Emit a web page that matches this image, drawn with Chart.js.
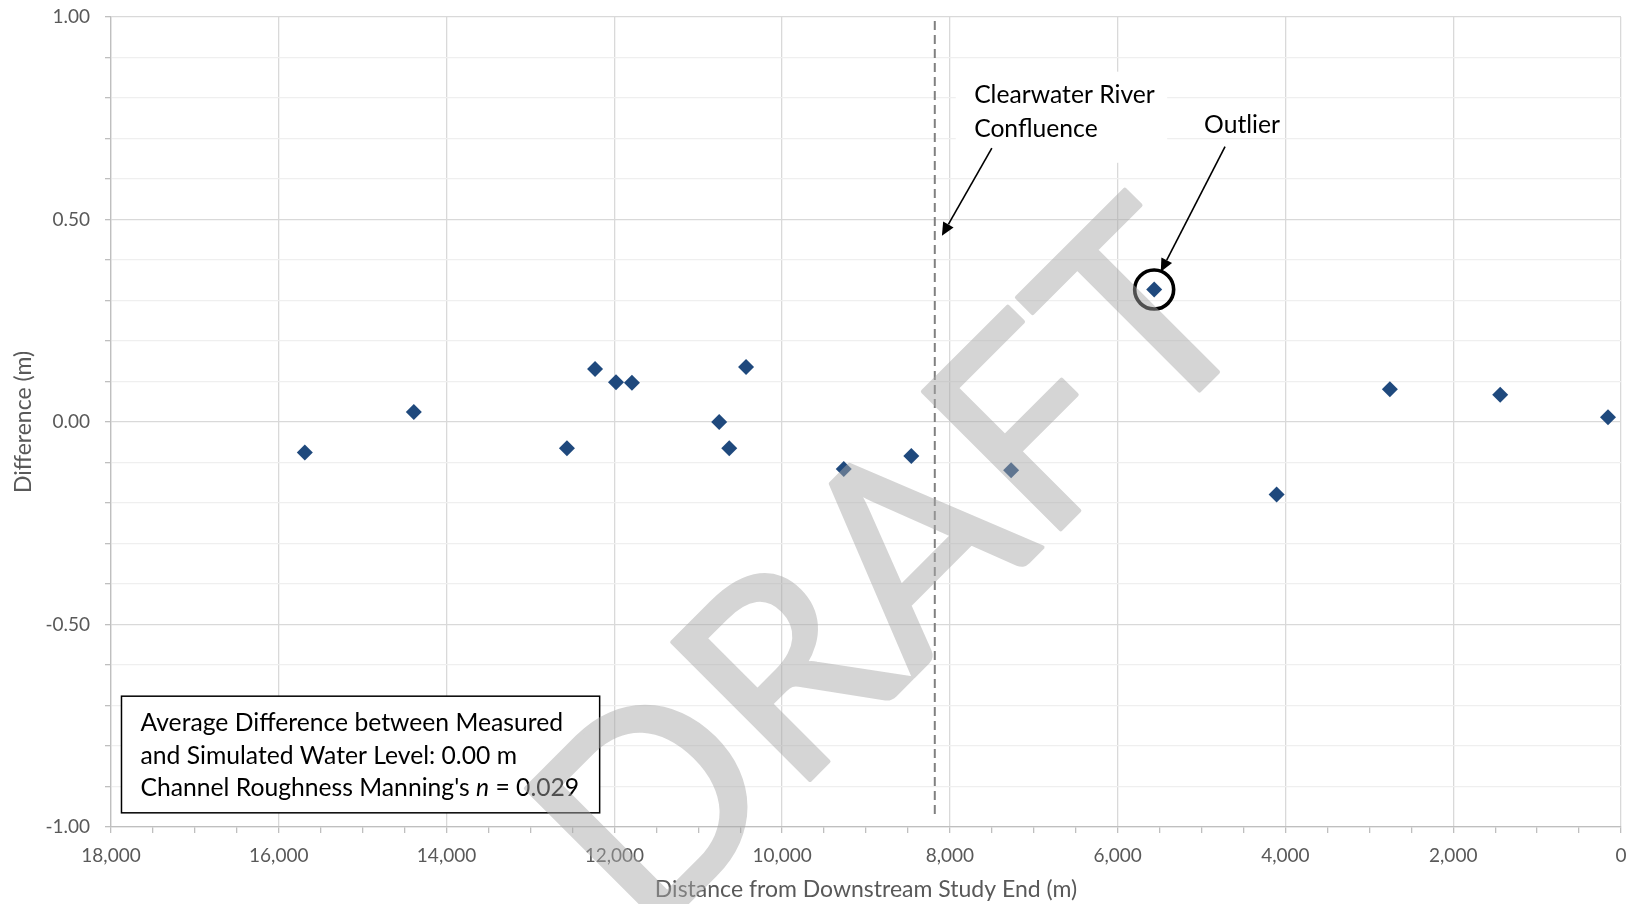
<!DOCTYPE html>
<html>
<head>
<meta charset="utf-8">
<script src="https://cdn.jsdelivr.net/npm/chart.js@4.4.1/dist/chart.umd.min.js"></script>
<style>
  html, body { margin: 0; padding: 0; background: #ffffff; }
  #wrap { width: 1631px; height: 904px; position: relative; }
</style>
</head>
<body>
<div id="wrap"><canvas id="chart" width="1631" height="904"></canvas></div>
<script>
// Measured minus simulated water level along the reach
const distance   = [15690, 14390, 12565, 12230, 11980, 11790, 10750, 10630, 10430, 9265, 8460, 7270, 5565, 4105, 2755, 1440, 155];
const difference = [-0.075, 0.025, -0.065, 0.131, 0.098, 0.097, 0.000, -0.065, 0.136, -0.116, -0.084, -0.119, 0.327, -0.179, 0.081, 0.067, 0.012];

// Tick values (labelled ones) for both axes
const xTickValues = [18000, 16000, 14000, 12000, 10000, 8000, 6000, 4000, 2000, 0];
const yTickValues = [1.00, 0.50, 0.00, -0.50, -1.00];

// Clearwater River confluence marker and the flagged outlier
const confluenceDistance = 8180;
const confluenceSpan = [0.99, -0.97];
const outlierIndex = 12;

const infoLines = [
  'Average Difference between Measured',
  'and Simulated Water Level: 0.00 m'
];
const roughnessLabel = { before: "Channel Roughness Manning's ", symbol: 'n', after: ' = 0.029' };

const BLUE = '#1f497d';
const AXIS_TEXT = '#595959';
const FONT = 'Lato';
const NOTE_SIZE = 24.7;

function px(chart, x, y) {
  return [chart.scales.x.getPixelForValue(x), chart.scales.y.getPixelForValue(y)];
}

function arrow(ctx, from, to) {
  const [x1, y1] = from, [x2, y2] = to;
  const ang = Math.atan2(y2 - y1, x2 - x1);
  const head = 13, half = 6;
  const bx = x2 - head * Math.cos(ang), by = y2 - head * Math.sin(ang);
  ctx.beginPath();
  ctx.moveTo(x1, y1);
  ctx.lineTo(bx, by);
  ctx.stroke();
  ctx.beginPath();
  ctx.moveTo(x2, y2);
  ctx.lineTo(bx + half * Math.sin(ang), by - half * Math.cos(ang));
  ctx.lineTo(bx - half * Math.sin(ang), by + half * Math.cos(ang));
  ctx.closePath();
  ctx.fill();
}

const annotations = {
  id: 'annotations',
  beforeDatasetsDraw(chart) {
    // white patch behind the confluence label
    const ctx = chart.ctx;
    const [l, t] = px(chart, 7930, 0.865);
    const [r, b] = px(chart, 5410, 0.64);
    ctx.save();
    ctx.fillStyle = '#ffffff';
    ctx.fillRect(l, t, r - l, b - t);
    ctx.restore();
  },
  afterDatasetsDraw(chart) {
    const ctx = chart.ctx;
    ctx.save();
    ctx.fillStyle = '#000000';
    ctx.strokeStyle = '#000000';
    ctx.font = `${NOTE_SIZE}px ${FONT}`;
    ctx.textBaseline = 'alphabetic';
    ctx.textAlign = 'left';

    // confluence label + arrow
    let [tx, ty] = px(chart, 7711, 0.787);
    ctx.fillText('Clearwater River', tx, ty);
    ctx.fillText('Confluence', tx, ty + 34);
    ctx.lineWidth = 1.6;
    arrow(ctx, px(chart, 7500, 0.676), px(chart, 8095, 0.46));

    // outlier label + arrow + ring
    [tx, ty] = px(chart, 4970, 0.713);
    ctx.fillText('Outlier', tx, ty);
    arrow(ctx, px(chart, 4720, 0.68), px(chart, 5486, 0.371));
    const [cx, cy] = px(chart, distance[outlierIndex], difference[outlierIndex]);
    ctx.lineWidth = 3.6;
    ctx.beginPath();
    ctx.arc(cx, cy, 19.5, 0, Math.PI * 2);
    ctx.stroke();

    // summary box
    const [bl, bt] = px(chart, 17875, -0.677);
    const [br, bb] = px(chart, 12175, -0.965);
    ctx.fillStyle = '#ffffff';
    ctx.fillRect(bl, bt, br - bl, bb - bt);
    ctx.lineWidth = 1.5;
    ctx.strokeRect(bl, bt, br - bl, bb - bt);
    ctx.fillStyle = '#000000';
    const textX = bl + 19;
    const base = bt + 35;
    infoLines.forEach((line, i) => ctx.fillText(line, textX, base + i * 32.5));
    const y3 = base + 2 * 32.5;
    let cur = textX;
    ctx.fillText(roughnessLabel.before, cur, y3);
    cur += ctx.measureText(roughnessLabel.before).width;
    ctx.font = `italic ${NOTE_SIZE}px ${FONT}`;
    ctx.fillText(roughnessLabel.symbol, cur, y3);
    cur += ctx.measureText(roughnessLabel.symbol).width;
    ctx.font = `${NOTE_SIZE}px ${FONT}`;
    ctx.fillText(roughnessLabel.after, cur, y3);
    ctx.restore();
  },
  afterDraw(chart) {
    // DRAFT watermark: drawn solid off-screen, then laid over the chart translucently
    const ctx = chart.ctx;
    const off = document.createElement('canvas');
    off.width = chart.width;
    off.height = chart.height;
    const o = off.getContext('2d');
    o.font = `272px ${FONT}`;
    o.fillStyle = '#a8a8a8';
    o.strokeStyle = '#a8a8a8';
    o.lineWidth = 4;
    o.lineJoin = 'round';
    o.textBaseline = 'alphabetic';
    o.textAlign = 'left';
    o.translate(978, 612);
    o.rotate(-45 * Math.PI / 180);
    const wDR = o.measureText('DR').width;
    const wA = o.measureText('A').width;
    const x0 = -(wDR + wA / 2);
    o.fillText('DRAFT', x0, 0);
    o.strokeText('DRAFT', x0, 0);
    ctx.save();
    ctx.globalAlpha = 0.48;
    ctx.drawImage(off, 0, 0);
    ctx.restore();
  }
};

const points = distance.map((d, i) => ({ x: d, y: difference[i] }));
const confluenceLine = confluenceSpan.map(v => ({ x: confluenceDistance, y: v }));

new Chart(document.getElementById('chart'), {
  type: 'scatter',
  data: {
    datasets: [
      {
        label: 'Difference',
        data: points,
        pointStyle: 'rectRot',
        pointRadius: 8,
        pointHoverRadius: 8,
        backgroundColor: BLUE,
        borderColor: BLUE,
        borderWidth: 0,
        order: 1
      },
      {
        label: 'Clearwater River Confluence',
        data: confluenceLine,
        showLine: true,
        borderColor: '#808080',
        borderWidth: 2,
        borderDash: [9, 5],
        pointRadius: 0,
        order: 2
      }
    ]
  },
  options: {
    responsive: false,
    animation: false,
    devicePixelRatio: 1,
    layout: { padding: { top: 17, right: 10, left: 0, bottom: 0 } },
    plugins: { legend: { display: false }, tooltip: { enabled: false } },
    scales: {
      x: {
        type: 'linear',
        reverse: true,
        min: 0,
        max: 18000,
        afterBuildTicks(scale) {
          const t = [];
          for (let v = 0; v <= 18000; v += 500) t.push({ value: v });
          scale.ticks = t;
        },
        afterFit(scale) { scale.height = 77; },
        ticks: {
          autoSkip: false,
          maxRotation: 0,
          padding: 11,
          color: AXIS_TEXT,
          font: { family: FONT, size: 19 },
          callback: v => xTickValues.includes(v) ? v.toLocaleString('en-US') : ''
        },
        grid: {
          color: c => (c.tick && xTickValues.includes(c.tick.value)) ? '#d9d9d9' : 'rgba(0,0,0,0)',
          tickColor: '#bfbfbf',
          tickLength: 6,
          lineWidth: 1.3
        },
        border: { color: '#bfbfbf', width: 1.3 },
        title: {
          display: true,
          text: 'Distance from Downstream Study End (m)',
          color: AXIS_TEXT,
          font: { family: FONT, size: 23 },
          padding: { top: 0, bottom: 1 }
        }
      },
      y: {
        type: 'linear',
        min: -1,
        max: 1,
        afterBuildTicks(scale) {
          const t = [];
          for (let i = -10; i <= 10; i++) t.push({ value: i / 10 });
          scale.ticks = t;
        },
        afterFit(scale) {
          scale.width = 111;
          scale.paddingTop = 0;
          scale.paddingBottom = 0;
        },
        ticks: {
          autoSkip: false,
          padding: 15,
          color: AXIS_TEXT,
          font: { family: FONT, size: 19 },
          callback: v => yTickValues.some(t => Math.abs(t - v) < 1e-9) ? v.toFixed(2) : ''
        },
        grid: {
          color: c => (c.tick && yTickValues.some(t => Math.abs(t - c.tick.value) < 1e-9)) ? '#d9d9d9' : '#efefef',
          tickColor: '#bfbfbf',
          tickLength: 6,
          lineWidth: 1.3
        },
        border: { color: '#bfbfbf', width: 1.3 },
        title: {
          display: true,
          text: 'Difference (m)',
          color: AXIS_TEXT,
          font: { family: FONT, size: 23 },
          padding: { top: 10, bottom: 0 }
        }
      }
    }
  },
  plugins: [annotations]
});
</script>
</body>
</html>
